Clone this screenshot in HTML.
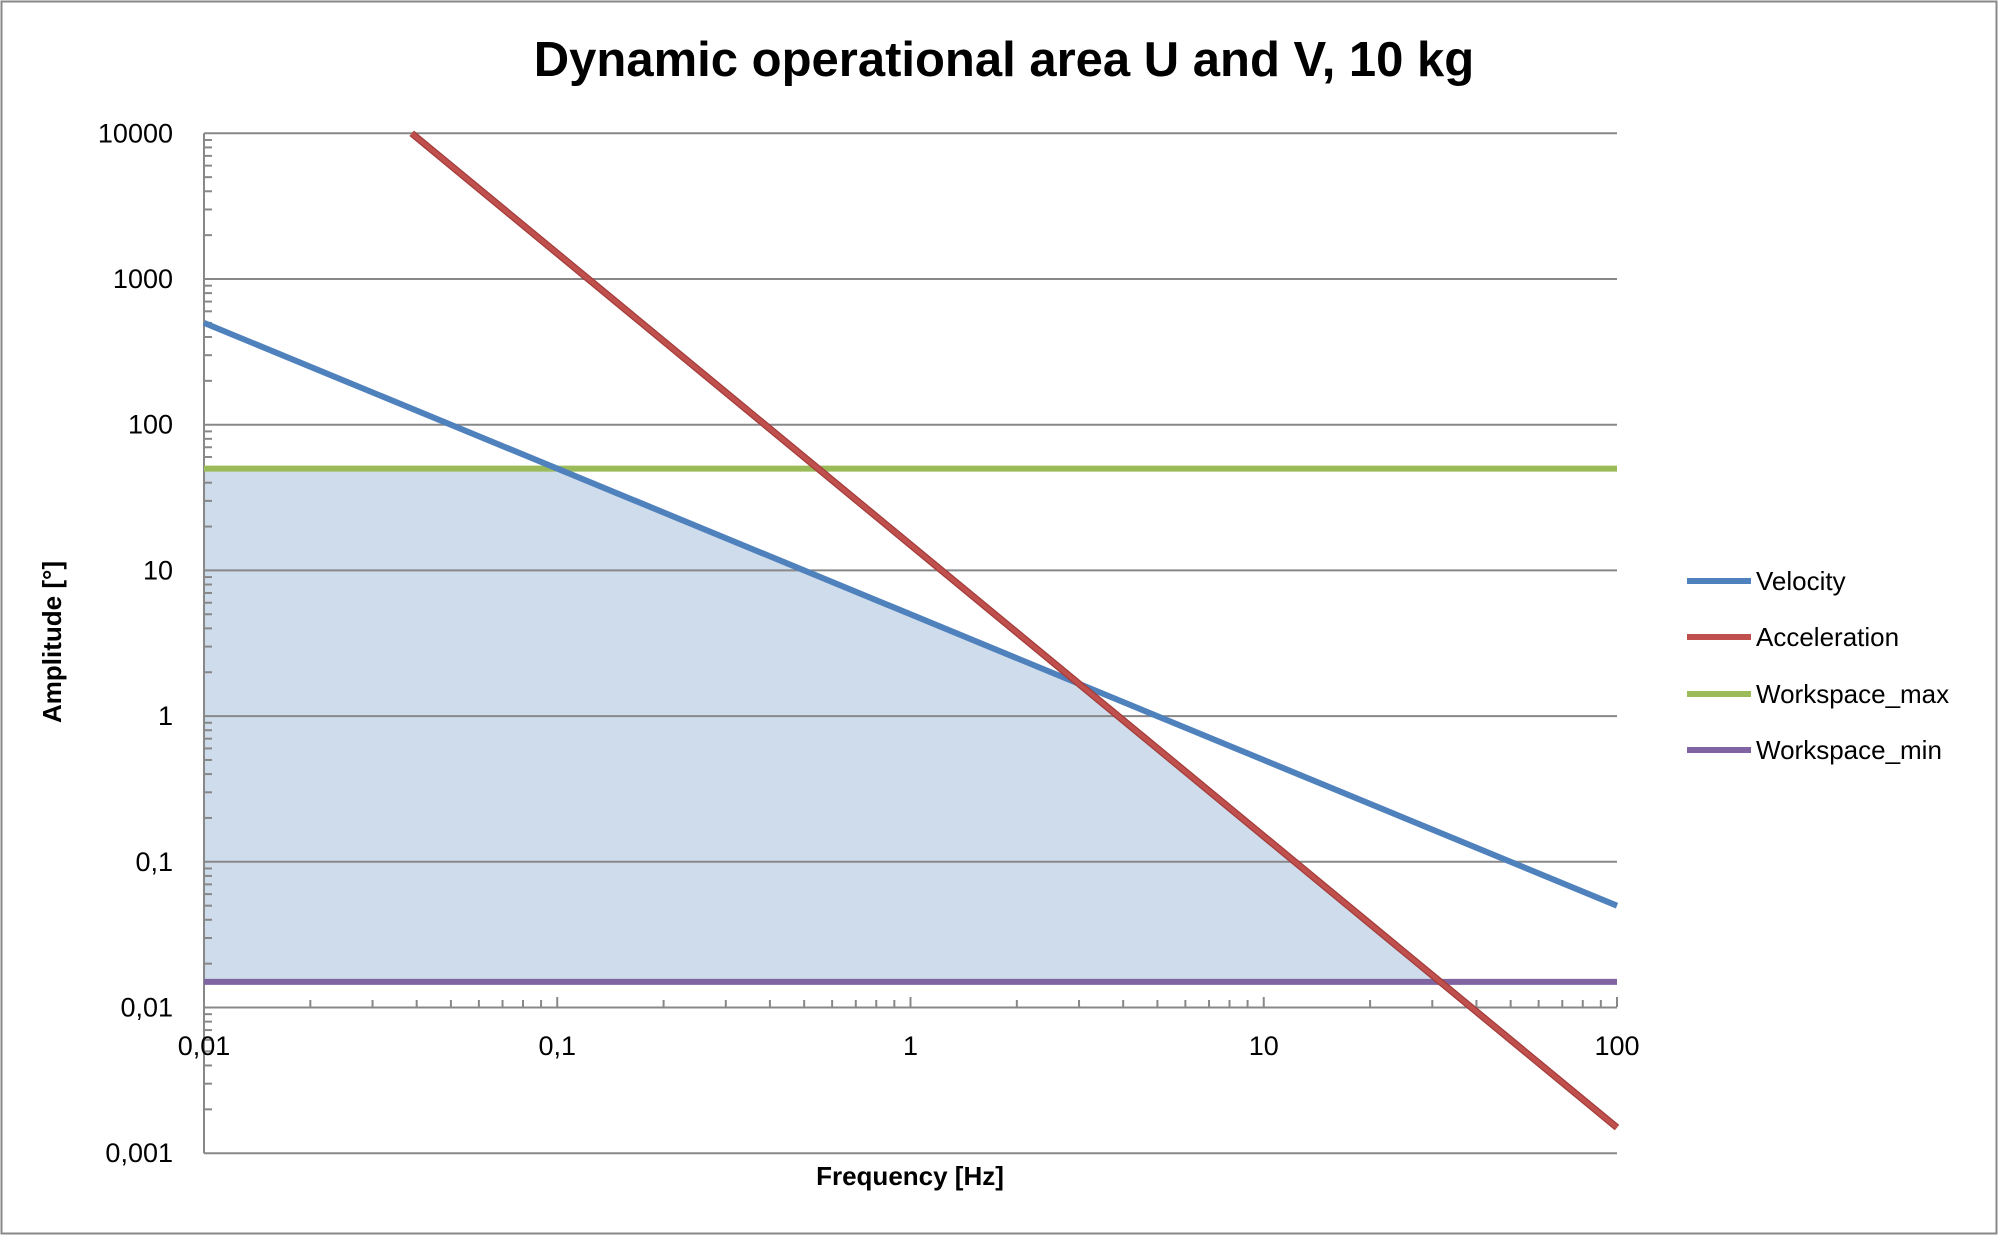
<!DOCTYPE html>
<html><head><meta charset="utf-8"><style>
html,body{margin:0;padding:0;background:#fff;}
svg{display:block;font-family:"Liberation Sans",sans-serif;}
</style></head><body>
<svg id="s" width="2000" height="1236" viewBox="0 0 2000 1236" xmlns="http://www.w3.org/2000/svg">
<rect x="1.5" y="1.5" width="1995" height="1232" fill="#fff" stroke="#888" stroke-width="2"/>
<text x="1004" y="76" text-anchor="middle" font-size="49" font-weight="bold" fill="#000">Dynamic operational area U and V, 10 kg</text>
<polygon points="204,468.6 557.25,468.6 1079,683.8 1440.4,981.9 204,981.9" fill="#cfdcec"/>
<g id="grid" stroke="#888" stroke-width="2"></g>
<g id="ticks" stroke="#888" stroke-width="2"></g>
<g id="labels" font-size="27" fill="#000"></g>
<line x1="204" y1="468.6" x2="1617" y2="468.6" stroke="#9bbb59" stroke-width="6"/>
<line x1="204" y1="981.9" x2="1617" y2="981.9" stroke="#8064a2" stroke-width="6"/>
<line x1="204" y1="322.9" x2="1617" y2="905.7" stroke="#4f81bd" stroke-width="6"/>
<line x1="411.7" y1="133.3" x2="1617" y2="1127.6" stroke="#a33c3a" stroke-width="7"/>
<line x1="411.7" y1="133.3" x2="1617" y2="1127.6" stroke="#c0504d" stroke-width="4.5"/>
<text x="61" y="642" transform="rotate(-90 61 642)" text-anchor="middle" font-size="26" font-weight="bold">Amplitude [°]</text>
<text x="910" y="1185" text-anchor="middle" font-size="26" font-weight="bold">Frequency [Hz]</text>
<g font-size="26">
<line x1="1687" y1="581" x2="1751" y2="581" stroke="#4f81bd" stroke-width="6"/>
<text x="1756" y="590">Velocity</text>
<line x1="1687" y1="637" x2="1751" y2="637" stroke="#c0504d" stroke-width="6"/>
<text x="1756" y="646">Acceleration</text>
<line x1="1687" y1="694" x2="1751" y2="694" stroke="#9bbb59" stroke-width="6"/>
<text x="1756" y="703">Workspace_max</text>
<line x1="1687" y1="750" x2="1751" y2="750" stroke="#8064a2" stroke-width="6"/>
<text x="1756" y="759">Workspace_min</text>
</g>
</svg>
<script>
var NS="http://www.w3.org/2000/svg";
function el(p,t,a,txt){var e=document.createElementNS(NS,t);for(var k in a)e.setAttribute(k,a[k]);if(txt!==undefined)e.textContent=txt;document.getElementById(p).appendChild(e);}
var L=204,R=1617,T=133.3,D=145.7,XD=353.25,AX=1007;
function Y(lg){return T+(4-lg)*D;}
function X(lg){return L+(lg+2)*XD;}
var yl=["10000","1000","100","10","1","0,1","0,01","0,001"];
for(var i=0;i<8;i++){var lg=4-i,y=Y(lg);
 el("grid","line",{x1:L,y1:y,x2:R,y2:y});
 el("labels","text",{x:173,y:y+9,"text-anchor":"end"},yl[i]);
 if(i<7)for(var m=2;m<10;m++){var yy=Y(lg-1+Math.log10(m));el("ticks","line",{x1:L,y1:yy,x2:L+8,y2:yy});}
}
el("grid","line",{x1:L,y1:T,x2:L,y2:Y(-3)});
var xl=["0,01","0,1","1","10","100"];
for(var j=0;j<5;j++){var x=X(j-2);
 el("labels","text",{x:x,y:AX+48,"text-anchor":"middle"},xl[j]);
 el("ticks","line",{x1:x,y1:AX,x2:x,y2:AX-10});
 if(j<4)for(var m=2;m<10;m++){var xx=X(j-2+Math.log10(m));el("ticks","line",{x1:xx,y1:AX,x2:xx,y2:AX-7});}
}
</script>
</body></html>
